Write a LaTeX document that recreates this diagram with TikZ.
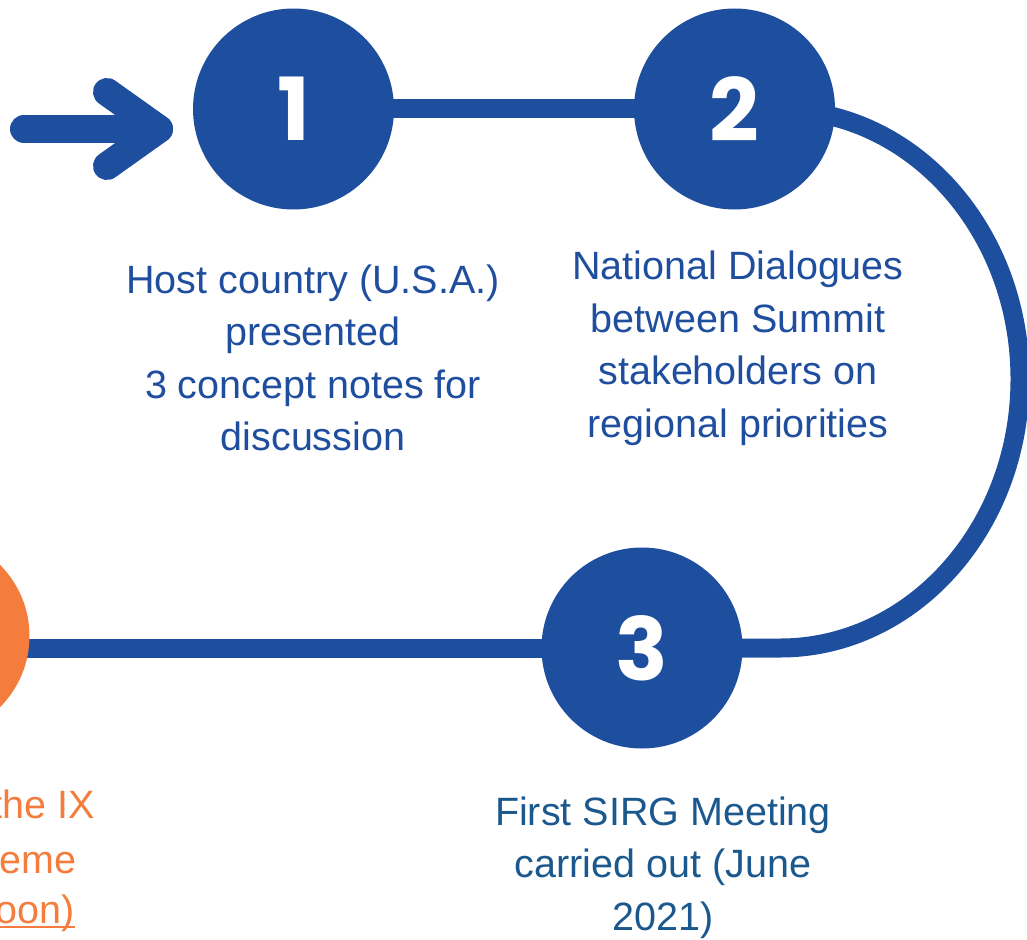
\documentclass[tikz,border=0pt]{standalone}
\usepackage{fontspec}
\setmainfont{Liberation Sans}
\newfontfamily\numfont{Poppins}
\usetikzlibrary{backgrounds}
\definecolor{mblue}{HTML}{1E4F9F}
\definecolor{tblue}{HTML}{1F4E9E}
\definecolor{sblue}{HTML}{1B588E}
\definecolor{morange}{HTML}{F47C3D}
\newcommand\myul[1]{\setbox0\hbox{#1}\rlap{\rule[-5pt]{\wd0}{2pt}}\box0}
\tikzset{
  stepcircle/.style={circle, fill=mblue, minimum size=201pt, inner sep=0pt, text=white, font=\numfont\bfseries\fontsize{87}{87}\selectfont},
  endcircle/.style={circle, fill=morange, minimum size=201pt, inner sep=0pt},
  conn/.style={draw=mblue, line width=19pt},
  bigarrow/.style={draw=mblue, line width=28pt, line cap=round, line join=round},
  caption/.style={align=center, inner sep=0pt, text=tblue, font=\fontsize{39.5}{52.5}\selectfont},
  orangetext/.style={inner sep=0pt, text=morange, font=\fontsize{39.5}{52.5}\selectfont, anchor=base east}
}
\begin{document}
\begin{tikzpicture}[x=1pt,y=1pt]
\useasboundingbox (0,0) rectangle (1027,-939);
% step circles
\node[stepcircle] (c1) at (293.5,-109) {1};
\node[stepcircle] (c2) at (734.5,-109) {2};
\node[stepcircle] (c3) at (642,-648) {3};
\node[endcircle]  (c4) at (-71,-636) {};
% connectors
\coordinate (bend) at (780,-648);
\coordinate (ashaft) at (24,-129);
\coordinate (atip) at (159,-129);
\coordinate (aup) at (107,-92);
\coordinate (adown) at (107,-166);
\begin{pgfonlayer}{background}
\draw[conn] (c1.center) -- (c2.center);
\draw[conn] (c3.center) -- (bend) arc[start angle=-90, end angle=90, x radius=240, y radius=269];
\draw[conn] (c3.center) -- (c3.center -| c4.center);
\end{pgfonlayer}
\draw[bigarrow] (ashaft) -- (atip);
\draw[bigarrow] (aup) -- (atip) -- (adown);
% captions (base anchor = baseline of last line)
\node[caption, anchor=base] (t1) at (313,-450.5) {Host country (U.S.A.)\\presented\\ 3 concept notes for\\discussion};
\node[caption, anchor=base] (t2) at (738,-437) {National Dialogues\\between Summit\\stakeholders on\\regional priorities};
\node[caption, anchor=base, text=sblue] (t3) at (663,-930) {First SIRG Meeting\\carried out (June\\2021)};
\node[orangetext] (o1) at (95,-818) {the IX};
\node[orangetext] (o2) at (77,-873) {eme};
\node[orangetext] (o3) at (75,-923) {\myul{oon)}};
\end{tikzpicture}
\end{document}
